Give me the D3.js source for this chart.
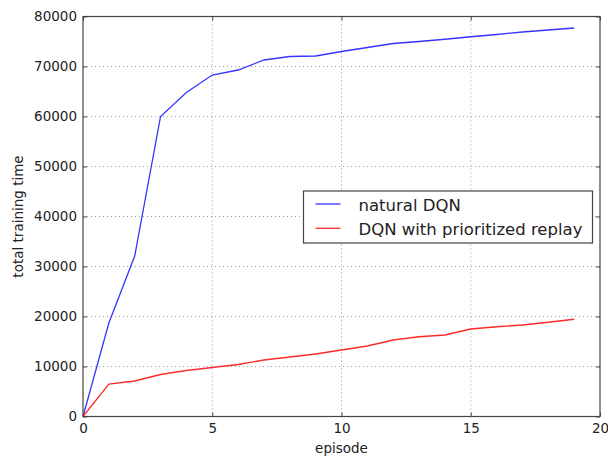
<!DOCTYPE html>
<html>
<head>
<meta charset="utf-8">
<script src="https://cdn.jsdelivr.net/npm/d3@7"></script>
<style>
  body { margin: 0; background: #fff; }
  svg text { font-family: "DejaVu Sans", sans-serif; fill: #222; }
</style>
</head>
<body>
<svg id="chart" width="608" height="458"></svg>
<script>
// data
var episodes = d3.range(0, 20);
var naturalDQN = [0, 18700, 32100, 60000, 64800, 68300, 69300, 71300, 72000, 72100,
                  73000, 73800, 74600, 75000, 75450, 75950, 76400, 76900, 77300, 77700];
var prioritizedDQN = [0, 6500, 7100, 8400, 9200, 9800, 10400, 11300, 11900, 12500,
                      13300, 14100, 15300, 15950, 16300, 17500, 17950, 18300, 18850, 19450];
var xTicks = [0, 5, 10, 15, 20];
var yTicks = [0, 10000, 20000, 30000, 40000, 50000, 60000, 70000, 80000];
var seriesNames = ["natural DQN", "DQN with prioritized replay"];
var seriesColors = ["#3535ff", "#ff2a2a"];

var margin = {left: 83, top: 16.5, right: 8, bottom: 41.5};
var width = 608 - margin.left - margin.right,
    height = 458 - margin.top - margin.bottom;

var svg = d3.select("#chart");
var g = svg.append("g").attr("transform", "translate(" + margin.left + "," + margin.top + ")");

var x = d3.scaleLinear().domain([0, 20]).range([0, width]);
var y = d3.scaleLinear().domain([0, 80000]).range([height, 0]);

// grid
g.append("g").selectAll("line").data(xTicks.slice(1, -1)).enter().append("line")
  .attr("x1", function(d){ return x(d); }).attr("x2", function(d){ return x(d); })
  .attr("y1", 0).attr("y2", height)
  .attr("stroke", "#9a9a9a").attr("stroke-width", 1).attr("stroke-dasharray", "1,3");
g.append("g").selectAll("line").data(yTicks.slice(1, -1)).enter().append("line")
  .attr("x1", 0).attr("x2", width)
  .attr("y1", function(d){ return y(d); }).attr("y2", function(d){ return y(d); })
  .attr("stroke", "#9a9a9a").attr("stroke-width", 1).attr("stroke-dasharray", "1,3");

// axes (ticks inside, like matplotlib classic)
var xAxis = d3.axisBottom(x).tickValues(xTicks).tickFormat(d3.format("d"))
  .tickSizeInner(-4).tickSizeOuter(0).tickPadding(7);
var yAxis = d3.axisLeft(y).tickValues(yTicks).tickFormat(d3.format("d"))
  .tickSizeInner(-4).tickSizeOuter(0).tickPadding(6);

var gx = g.append("g").attr("transform", "translate(0," + height + ")").call(xAxis);
var gy = g.append("g").call(yAxis);
[gx, gy].forEach(function(a){
  a.select(".domain").remove();
  a.selectAll("line").attr("stroke", "#444");
  a.selectAll("text").style("font-size", "13.5px").attr("fill", "#222");
});
// top / right tick marks
g.append("g").call(d3.axisTop(x).tickValues(xTicks).tickSizeInner(-4).tickSizeOuter(0).tickFormat(""))
  .call(function(a){ a.select(".domain").remove(); a.selectAll("line").attr("stroke", "#444"); });
g.append("g").attr("transform", "translate(" + width + ",0)")
  .call(d3.axisRight(y).tickValues(yTicks).tickSizeInner(-4).tickSizeOuter(0).tickFormat(""))
  .call(function(a){ a.select(".domain").remove(); a.selectAll("line").attr("stroke", "#444"); });

// lines
var line = d3.line().x(function(d, i){ return x(episodes[i]); }).y(function(d){ return y(d); });
[naturalDQN, prioritizedDQN].forEach(function(s, i){
  g.append("path").datum(s).attr("d", line)
    .attr("fill", "none").attr("stroke", seriesColors[i]).attr("stroke-width", 1.3);
});

// frame
g.append("rect").attr("width", width).attr("height", height)
  .attr("fill", "none").attr("stroke", "#444").attr("stroke-width", 1.2);

// axis labels
svg.append("text").attr("x", margin.left + width / 2).attr("y", 453)
  .attr("text-anchor", "middle").style("font-size", "13.5px").text("episode");
svg.append("text").attr("transform", "translate(23," + (margin.top + height / 2) + ") rotate(-90)")
  .attr("text-anchor", "middle").style("font-size", "13.5px").text("total training time");

// legend
var legend = svg.append("g").attr("transform", "translate(303.5,191)");
legend.append("rect").attr("width", 289).attr("height", 52)
  .attr("fill", "#fff").attr("stroke", "#444").attr("stroke-width", 1.2);
seriesNames.forEach(function(name, i){
  var row = legend.append("g").attr("transform", "translate(0," + (13 + i * 24.3) + ")");
  row.append("line").attr("x1", 12).attr("x2", 37).attr("y1", 0).attr("y2", 0)
    .attr("stroke", seriesColors[i]).attr("stroke-width", 1.3);
  row.append("text").attr("x", 55).attr("y", 6.7).style("font-size", "16.5px").text(name);
});
</script>
</body>
</html>
